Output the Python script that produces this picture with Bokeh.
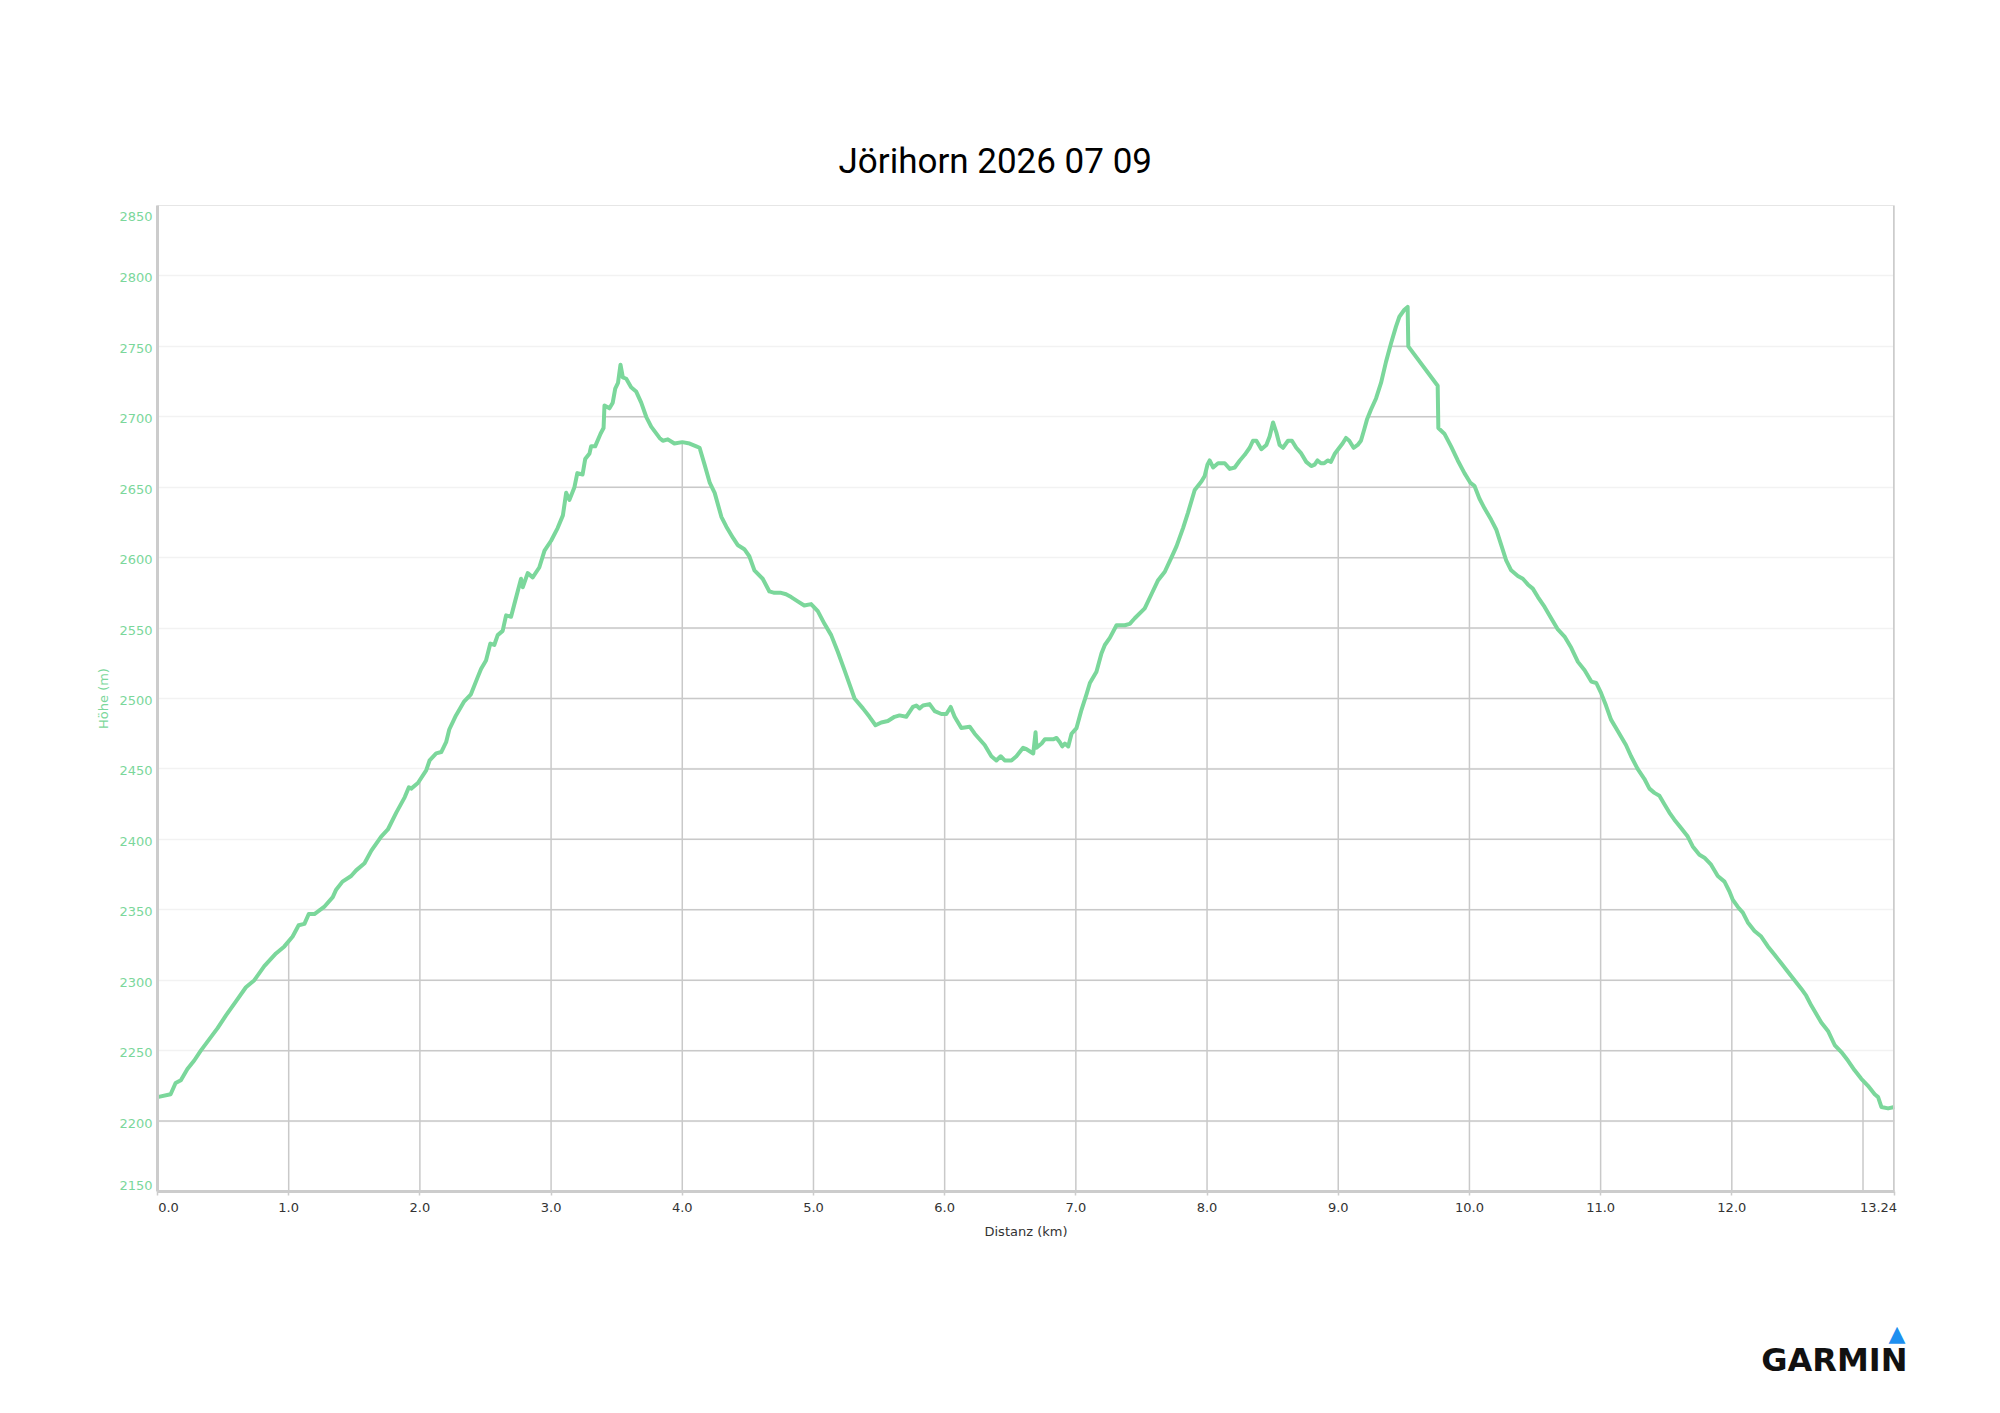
import numpy as np
from bokeh.plotting import figure
from bokeh.models import (Range1d, FixedTicker, Span, LinearAxis, CustomJSTickFormatter, Title)
from bokeh.embed import file_html
from bokeh.resources import INLINE

TITLE = "Jörihorn 2026 07 09"
X_LABEL = "Distanz (km)"
Y_LABEL = "Höhe (m)"
BRAND = "GARMIN"
BRAND_MARK = "▲"

DIST_KM = [
    0.000, 0.100, 0.138, 0.178, 0.228, 0.280, 0.330, 0.394, 0.458, 0.522, 0.598, 0.674, 0.738, 0.814,
    0.903, 0.967, 1.030, 1.076, 1.120, 1.153, 1.196, 1.270, 1.336, 1.360, 1.410, 1.476, 1.514, 1.578,
    1.630, 1.705, 1.756, 1.820, 1.885, 1.916, 1.934, 1.985, 2.048, 2.074, 2.124, 2.163, 2.200,
    2.224, 2.275, 2.338, 2.389, 2.440, 2.466, 2.504, 2.537, 2.567, 2.593, 2.631, 2.657, 2.695, 2.720,
    2.771, 2.784, 2.822, 2.860, 2.910, 2.950, 3.000, 3.050, 3.090, 3.115, 3.140, 3.178, 3.200, 3.240,
    3.260, 3.293, 3.305, 3.336, 3.377, 3.400, 3.407, 3.445, 3.470, 3.489, 3.510, 3.529, 3.547, 3.573,
    3.610, 3.648, 3.687, 3.725, 3.763, 3.827, 3.852, 3.890, 3.940, 4.000, 4.056, 4.107, 4.132, 4.170,
    4.210, 4.247, 4.298, 4.336, 4.387,
    4.422, 4.473, 4.511, 4.550, 4.613, 4.664, 4.702, 4.753, 4.791, 4.830, 4.880, 4.930, 4.982, 5.033,
    5.084, 5.135, 5.186, 5.237, 5.275, 5.313, 5.377, 5.427, 5.473, 5.517, 5.567, 5.618, 5.656, 5.707,
    5.758, 5.784, 5.809, 5.835, 5.885, 5.924, 5.975, 6.013, 6.046, 6.076, 6.127, 6.191, 6.229, 6.305,
    6.356, 6.394, 6.427, 6.458, 6.509, 6.547, 6.598,
    6.624, 6.675, 6.693, 6.700, 6.739, 6.764, 6.827, 6.853, 6.878, 6.896, 6.916, 6.942, 6.967, 7.005,
    7.043, 7.081, 7.107, 7.157, 7.195, 7.221, 7.259, 7.310, 7.373, 7.411, 7.449, 7.525, 7.576, 7.627,
    7.678, 7.728, 7.767, 7.817, 7.855, 7.906, 7.957, 7.982, 8.003, 8.020, 8.046, 8.084, 8.135, 8.173,
    8.211, 8.250, 8.287, 8.325, 8.350, 8.376, 8.414, 8.452, 8.477, 8.503, 8.528, 8.553, 8.579, 8.617,
    8.647, 8.680, 8.718, 8.756, 8.794, 8.820,
    8.842, 8.868, 8.893, 8.919, 8.944, 8.975, 9.008, 9.033, 9.059, 9.084, 9.117, 9.148, 9.173, 9.198,
    9.219, 9.249, 9.288, 9.326, 9.364, 9.402, 9.440, 9.466, 9.504, 9.529, 9.534, 9.758, 9.763, 9.809,
    9.860, 9.911, 9.962, 10.008, 10.038, 10.076, 10.115, 10.165, 10.204, 10.242, 10.280, 10.318, 10.369,
    10.407, 10.445, 10.483, 10.522, 10.573, 10.623, 10.674, 10.725, 10.776, 10.827, 10.878, 10.929, 10.967,
    11.003, 11.041, 11.079, 11.117, 11.155, 11.193, 11.232, 11.282, 11.333, 11.372, 11.410, 11.448,
    11.486, 11.524, 11.562, 11.613, 11.664, 11.702, 11.753, 11.791, 11.842, 11.893, 11.944, 11.982,
    12.008, 12.046, 12.084, 12.122, 12.173, 12.224, 12.275, 12.326, 12.377, 12.427, 12.478, 12.529,
    12.567, 12.606, 12.644, 12.682, 12.733, 12.784, 12.835, 12.885, 12.936, 12.987, 13.038, 13.089,
    13.115, 13.140, 13.191, 13.240,
]

ELEV_M = [
    2217, 2219, 2227, 2229, 2237, 2243, 2250, 2258, 2266, 2275, 2285, 2295, 2300, 2310,
    2319, 2324, 2331, 2339, 2340, 2347, 2347, 2352, 2359, 2364, 2370, 2374, 2378, 2383,
    2392, 2402, 2407, 2419, 2430, 2437, 2436, 2440, 2449, 2456, 2461, 2462, 2469,
    2478, 2488, 2498, 2503, 2515, 2521, 2527, 2539, 2538, 2545, 2548, 2559, 2558, 2567,
    2585, 2579, 2589, 2586, 2593, 2605, 2612, 2621, 2630, 2646, 2641, 2650, 2660, 2659,
    2670, 2674, 2679, 2679, 2688, 2692, 2708, 2706, 2710, 2720, 2724, 2737, 2728, 2727,
    2721, 2718, 2710, 2700, 2693, 2685, 2683, 2684, 2681, 2682, 2681, 2679, 2678, 2666,
    2653, 2646, 2629, 2622, 2614,
    2609, 2606, 2601, 2591, 2585, 2576, 2575, 2575, 2574, 2572, 2569, 2566, 2567, 2562,
    2553, 2545, 2533, 2520, 2510, 2500, 2493, 2487, 2481, 2483, 2484, 2487, 2488, 2487,
    2494, 2495, 2493, 2495, 2496, 2491, 2489, 2489, 2494, 2487, 2479, 2480, 2475, 2467,
    2459, 2456, 2459, 2456, 2456, 2459, 2465,
    2464, 2461, 2476, 2465, 2468, 2471, 2471, 2472, 2469, 2466, 2468, 2466, 2475, 2479,
    2492, 2503, 2511, 2519, 2532, 2538, 2543, 2552, 2552, 2553, 2557, 2564, 2574, 2584,
    2590, 2600, 2608, 2621, 2632, 2648, 2654, 2658, 2666, 2669, 2664, 2667, 2667, 2663,
    2664, 2669, 2673, 2678, 2683, 2683, 2677, 2680, 2686, 2696, 2689, 2680, 2678, 2683,
    2683, 2678, 2674, 2668, 2665, 2666,
    2669, 2667, 2667, 2669, 2668, 2674, 2678, 2681, 2685, 2683, 2678, 2680, 2683, 2691,
    2698, 2705, 2713, 2724, 2739, 2752, 2764, 2771, 2776, 2778, 2750, 2722, 2692, 2688,
    2679, 2669, 2660, 2653, 2651, 2642, 2635, 2627, 2620, 2609, 2598, 2591, 2587,
    2585, 2581, 2578, 2572, 2565, 2557, 2549, 2544, 2536, 2526, 2520, 2512, 2511,
    2504, 2495, 2485, 2479, 2473, 2467, 2459, 2450, 2443, 2436, 2433, 2431,
    2425, 2419, 2414, 2408, 2402, 2395, 2389, 2387, 2382, 2374, 2370, 2363,
    2357, 2352, 2348, 2341, 2335, 2331, 2324, 2318, 2312, 2306, 2300, 2294,
    2289, 2282, 2276, 2270, 2264, 2254, 2249, 2243, 2236, 2230, 2225, 2219,
    2217, 2210, 2209, 2210,
]

X_TICKS = [0.0, 1.0, 2.0, 3.0, 4.0, 5.0, 6.0, 7.0, 8.0, 9.0, 10.0, 11.0, 12.0, 13.24]
X_GRID = [1.0, 2.0, 3.0, 4.0, 5.0, 6.0, 7.0, 8.0, 9.0, 10.0, 11.0, 12.0, 13.0]
Y_TICKS = [2150, 2200, 2250, 2300, 2350, 2400, 2450, 2500, 2550, 2600, 2650, 2700, 2750, 2800, 2850]

X_MIN, X_MAX = 0.0, 13.24
Y_MIN, Y_MAX = 2150, 2850

GREEN = "#7bd79b"
GRID_DARK = "#c9c9c9"
GRID_LIGHT = "#f2f2f2"

# layout (pixels)
W, H = 1984, 1395
FRAME_L, FRAME_T, FRAME_W, FRAME_H = 157, 205, 1737, 986
FRAME_B = FRAME_T + FRAME_H
PX_PER_KM = FRAME_W / (X_MAX - X_MIN)
PX_PER_M = FRAME_H / (Y_MAX - Y_MIN)

dist = np.array(DIST_KM, dtype=float)
elev = np.array(ELEV_M, dtype=float)

p = figure(width=W, height=H, output_backend="svg", toolbar_location=None,
           x_range=Range1d(X_MIN, X_MAX), y_range=Range1d(Y_MIN, Y_MAX),
           min_border_left=FRAME_L, min_border_right=W - FRAME_L - FRAME_W,
           min_border_top=FRAME_T, min_border_bottom=H - FRAME_B)
p.background_fill_color = "white"
p.border_fill_color = "white"
p.outline_line_color = "#e6e6e6"
p.outline_line_width = 1

# title
p.title.text = TITLE
p.title.align = "left"
p.title.offset = 681
p.title.text_font = "Roboto"
p.title.text_font_size = "35px"
p.title.text_font_style = "normal"
p.title.text_color = "#000000"
p.title.standoff = 48

# grids
p.xgrid.grid_line_color = None
p.ygrid.ticker = FixedTicker(ticks=Y_TICKS)
p.ygrid.grid_line_color = GRID_LIGHT
p.ygrid.grid_line_width = 1.5

# dark grid under the curve: vertical
vx = np.array(X_GRID)
vtop = np.interp(vx, dist, elev)
p.segment(x0=vx, y0=np.full(len(vx), Y_MIN), x1=vx, y1=vtop, line_color=GRID_DARK, line_width=1.5)

# dark grid under the curve: horizontal
hx0, hx1, hy = [], [], []
for lvl in Y_TICKS[1:-1]:
    s = elev - lvl
    start = dist[0] if s[0] >= 0 else None
    for i in range(len(dist) - 1):
        a, b = s[i], s[i + 1]
        if a < 0 <= b:
            t = -a / (b - a)
            start = dist[i] + t * (dist[i + 1] - dist[i])
        elif a >= 0 > b:
            t = a / (a - b)
            end = dist[i] + t * (dist[i + 1] - dist[i])
            if start is not None:
                hx0.append(start); hx1.append(end); hy.append(lvl)
            start = None
    if start is not None:
        hx0.append(start); hx1.append(dist[-1]); hy.append(lvl)
p.segment(x0=hx0, y0=hy, x1=hx1, y1=hy, line_color=GRID_DARK, line_width=1.5)

# profile
p.line(dist, elev, line_color=GREEN, line_width=4, line_join="round")

# right border
p.add_layout(Span(location=X_MAX, dimension="height", line_color="#cccccc", line_width=3))

# x axis A: line + tick marks at the true positions
xa = p.xaxis[0]
xa.ticker = FixedTicker(ticks=X_TICKS)
xa.formatter = CustomJSTickFormatter(code='return "";')
xa.major_label_text_font_size = "0px"
xa.major_label_standoff = 0
xa.axis_line_color = "#cccccc"
xa.axis_line_width = 3
xa.major_tick_line_color = "#cccccc"
xa.major_tick_line_width = 1.5
xa.major_tick_out = 4
xa.major_tick_in = 0
xa.minor_tick_line_color = None

# x axis B: labels (end labels kept inside the plot width)
X_LABEL_POS = [X_TICKS[0] + 11 / PX_PER_KM] + X_TICKS[1:-1] + [X_TICKS[-1] - 16 / PX_PER_KM]
xb = LinearAxis(ticker=FixedTicker(ticks=X_LABEL_POS),
                formatter=CustomJSTickFormatter(code='if (tick > 13) { return "13.24"; } return Math.round(tick).toFixed(1);'),
                axis_line_color=None, major_tick_line_color=None, minor_tick_line_color=None,
                major_tick_out=0, major_tick_in=0,
                major_label_text_font="DejaVu Sans", major_label_text_font_size="13px",
                major_label_text_color="#333333", major_label_standoff=7,
                axis_label=X_LABEL, axis_label_text_font="DejaVu Sans", axis_label_text_font_size="13px",
                axis_label_text_font_style="normal", axis_label_text_color="#333333",
                axis_label_standoff=9)
p.add_layout(xb, "below")

# y axis
Y_LABEL_POS = ([Y_TICKS[0] + 6 / PX_PER_M] + [t - 2 / PX_PER_M for t in Y_TICKS[1:-1]]
               + [Y_TICKS[-1] - 11 / PX_PER_M])
ya = p.yaxis[0]
ya.ticker = FixedTicker(ticks=Y_LABEL_POS)
ya.formatter = CustomJSTickFormatter(code='return String(Math.round(tick / 50) * 50);')
ya.axis_label = Y_LABEL
ya.axis_label_text_font = "DejaVu Sans"
ya.axis_label_text_font_size = "13px"
ya.axis_label_text_font_style = "normal"
ya.axis_label_text_color = GREEN
ya.axis_label_standoff = 5
ya.major_label_text_font = "DejaVu Sans"
ya.major_label_text_font_size = "13px"
ya.major_label_text_color = GREEN
ya.major_label_standoff = 5
ya.axis_line_color = "#cccccc"
ya.axis_line_width = 3
ya.major_tick_line_color = None
ya.major_tick_out = 0
ya.major_tick_in = 0
ya.minor_tick_line_color = None

# brand mark, stacked in the lower margin (titles are not clipped to the frame)
spacer = Title(text=" ", text_font_size="1px", standoff=83)
mark = Title(text=BRAND_MARK, align="right", offset=-11, vertical_align="top",
             text_font="DejaVu Sans", text_font_size="22px", text_font_style="normal",
             text_color="#1e8ff0", standoff=-14)
brand = Title(text=BRAND, align="right", offset=-13, vertical_align="top",
              text_font="DejaVu Sans", text_font_size="32px", text_font_style="bold",
              text_color="#111111", standoff=0)
p.add_layout(spacer, "below")
p.add_layout(mark, "below")
p.add_layout(brand, "below")

open("out.html", "w").write(file_html(p, INLINE))
